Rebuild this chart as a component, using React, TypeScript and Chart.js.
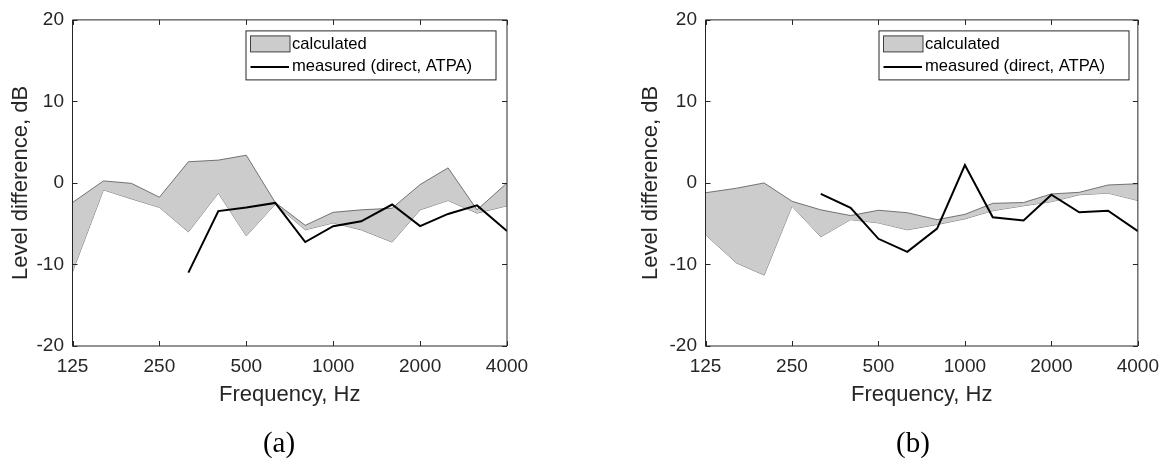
import React, { useEffect, useRef } from "react";
import { Chart, registerables } from "chart.js";

Chart.register(...registerables);

// ---- data ----
const frequencies = [125, 160, 200, 250, 315, 400, 500, 630, 800, 1000, 1250, 1600, 2000, 2500, 3150, 4000];
const xTickValues = [125, 250, 500, 1000, 2000, 4000];
const yTickValues = [-20, -10, 0, 10, 20];

const calcUpperA = [-2.4, 0.25, -0.05, -1.75, 2.6, 2.8, 3.4, -2.4, -5.2, -3.6, -3.3, -3.1, -0.2, 1.85, -3.3, 0.0];
const calcLowerA = [-10.9, -0.85, -1.95, -3.0, -6.0, -1.25, -6.5, -2.6, -5.75, -4.9, -5.75, -7.25, -3.3, -2.15, -3.7, -2.8];
const measuredA = [null, null, null, null, -11.0, -3.45, -3.0, -2.45, -7.25, -5.3, -4.7, -2.65, -5.3, -3.8, -2.75, -5.9];

const calcUpperB = [-1.2, -0.65, 0.0, -2.25, -3.3, -4.0, -3.35, -3.65, -4.5, -3.85, -2.5, -2.4, -1.35, -1.15, -0.25, -0.1];
const calcLowerB = [-6.35, -9.8, -11.3, -2.85, -6.6, -4.5, -4.9, -5.75, -5.1, -4.4, -3.4, -2.8, -2.3, -1.45, -1.25, -2.15];
const measuredB = [null, null, null, null, -1.35, -3.05, -6.85, -8.45, -5.6, 2.2, -4.2, -4.6, -1.45, -3.6, -3.4, -5.9];

const legendLabels = ["calculated", "measured (direct, ATPA)"];
const xTitle = "Frequency, Hz";
const yTitle = "Level difference, dB";

const SANS = "'Liberation Sans', Arial, sans-serif";
const SERIF = "'Liberation Serif', 'Times New Roman', serif";
const TEXT = "#262626";

const toPoints = (vals: (number | null)[]) => frequencies.map((f, i) => ({ x: f, y: vals[i] }));

const decorPlugin = {
  id: "decor",
  afterDraw(chart: any, _args: any, opts: any) {
    const ctx = chart.ctx as CanvasRenderingContext2D;
    const { left, right, top, bottom } = chart.chartArea;
    const xs = chart.scales.x;
    const ys = chart.scales.y;
    ctx.save();
    // frame
    ctx.strokeStyle = TEXT;
    ctx.lineWidth = 1;
    ctx.beginPath();
    ctx.moveTo(left, top);
    ctx.lineTo(right, top);
    ctx.lineTo(right, bottom);
    ctx.lineTo(left, bottom);
    ctx.closePath();
    ctx.stroke();
    // inward ticks
    const tl = 5;
    ctx.beginPath();
    xTickValues.forEach((v) => {
      const px = Math.round(xs.getPixelForValue(v)) + 0.5;
      ctx.moveTo(px, bottom);
      ctx.lineTo(px, bottom - tl);
      ctx.moveTo(px, top);
      ctx.lineTo(px, top + tl);
    });
    yTickValues.forEach((v) => {
      const py = Math.round(ys.getPixelForValue(v)) + 0.5;
      ctx.moveTo(left, py);
      ctx.lineTo(left + tl, py);
      ctx.moveTo(right, py);
      ctx.lineTo(right - tl, py);
    });
    ctx.stroke();

    // axis titles
    ctx.fillStyle = TEXT;
    ctx.font = `22px ${SANS}`;
    ctx.textAlign = "center";
    ctx.textBaseline = "alphabetic";
    ctx.fillText(xTitle, (left + right) / 2, 401);
    ctx.save();
    ctx.translate(opts.yTitleX, (top + bottom) / 2);
    ctx.rotate(-Math.PI / 2);
    ctx.textBaseline = "middle";
    ctx.fillText(yTitle, 0, 0);
    ctx.restore();

    // caption
    ctx.fillStyle = "#000";
    ctx.font = `29px ${SERIF}`;
    ctx.textAlign = "center";
    ctx.textBaseline = "alphabetic";
    ctx.fillText(opts.caption, opts.captionX, 452);

    // legend
    const bx = left + 173.5;
    const by = top + 11;
    const bw = 250;
    const bh = 49;
    ctx.fillStyle = "#fff";
    ctx.fillRect(bx, by, bw, bh);
    ctx.strokeStyle = TEXT;
    ctx.lineWidth = 1;
    ctx.strokeRect(bx, by, bw, bh);
    // swatch
    ctx.fillStyle = "#cccccc";
    ctx.fillRect(bx + 4.5, by + 5, 39.5, 16);
    ctx.strokeStyle = "#404040";
    ctx.strokeRect(bx + 4.5, by + 5, 39.5, 16);
    // line sample
    ctx.strokeStyle = "#000";
    ctx.lineWidth = 2;
    ctx.beginPath();
    ctx.moveTo(bx + 4.5, by + 36);
    ctx.lineTo(bx + 43, by + 36);
    ctx.stroke();
    ctx.fillStyle = "#000";
    ctx.font = `16.6px ${SANS}`;
    ctx.textAlign = "left";
    ctx.textBaseline = "middle";
    ctx.fillText(legendLabels[0], bx + 46, by + 13.5);
    ctx.fillText(legendLabels[1], bx + 46, by + 36);
    ctx.restore();
  },
};

type PanelProps = {
  upper: number[];
  lower: number[];
  measured: (number | null)[];
  caption: string;
  canvasLeft: number;
  yWidth: number;
  padRight: number;
  yTitleX: number;
  captionX: number;
};

function Panel(p: PanelProps) {
  const ref = useRef<HTMLCanvasElement | null>(null);
  useEffect(() => {
    if (!ref.current) return;
    const chart = new Chart(ref.current, {
      type: "line",
      data: {
        datasets: [
          {
            label: legendLabels[1],
            data: toPoints(p.measured) as any,
            borderColor: "#000",
            borderWidth: 2,
            pointRadius: 0,
            fill: false,
            spanGaps: false,
          },
          {
            label: legendLabels[0],
            data: toPoints(p.upper) as any,
            borderColor: "#555",
            borderWidth: 0.8,
            backgroundColor: "#cccccc",
            pointRadius: 0,
            fill: "+1",
          },
          {
            label: "calculated lower",
            data: toPoints(p.lower) as any,
            borderColor: "#555",
            borderWidth: 0.8,
            pointRadius: 0,
            fill: false,
          },
        ],
      },
      options: {
        animation: false,
        responsive: false,
        devicePixelRatio: 1,
        layout: { padding: { left: 0, top: 19, right: p.padRight, bottom: 0 } },
        plugins: {
          legend: { display: false },
          tooltip: { enabled: false },
          decor: { caption: p.caption, captionX: p.captionX, yTitleX: p.yTitleX },
        } as any,
        scales: {
          x: {
            type: "logarithmic",
            min: 125,
            max: 4000,
            grid: { display: false, drawTicks: false },
            border: { display: false },
            afterBuildTicks: (scale: any) => {
              scale.ticks = xTickValues.map((v) => ({ value: v }));
            },
            afterFit: (scale: any) => {
              scale.height = 118;
            },
            ticks: {
              autoSkip: false,
              maxRotation: 0,
              padding: 9,
              color: TEXT,
              font: { size: 19, family: SANS },
              callback: (v: any) => String(v),
            },
          },
          y: {
            type: "linear",
            min: -20,
            max: 20,
            grid: { display: false, drawTicks: false },
            border: { display: false },
            afterBuildTicks: (scale: any) => {
              scale.ticks = yTickValues.map((v) => ({ value: v }));
            },
            afterFit: (scale: any) => {
              scale.width = p.yWidth;
            },
            ticks: {
              padding: 8.5,
              color: TEXT,
              font: { size: 19, family: SANS },
              callback: (v: any) => String(v),
            },
          },
        },
      },
      plugins: [decorPlugin],
    });
    return () => chart.destroy();
  }, []);
  return (
    <canvas
      ref={ref}
      width={584}
      height={464}
      style={{ position: "absolute", left: p.canvasLeft, top: 0, width: 584, height: 464 }}
    />
  );
}

export default function App() {
  return (
    <div style={{ position: "absolute", left: 0, top: 0, width: 1168, height: 464, background: "#fff" }}>
      <Panel
        upper={calcUpperA}
        lower={calcLowerA}
        measured={measuredA}
        caption="(a)"
        canvasLeft={0}
        yWidth={72.5}
        padRight={77}
        yTitleX={21}
        captionX={279}
      />
      <Panel
        upper={calcUpperB}
        lower={calcLowerB}
        measured={measuredB}
        caption="(b)"
        canvasLeft={584}
        yWidth={121.5}
        padRight={28.5}
        yTitleX={67}
        captionX={329}
      />
    </div>
  );
}
